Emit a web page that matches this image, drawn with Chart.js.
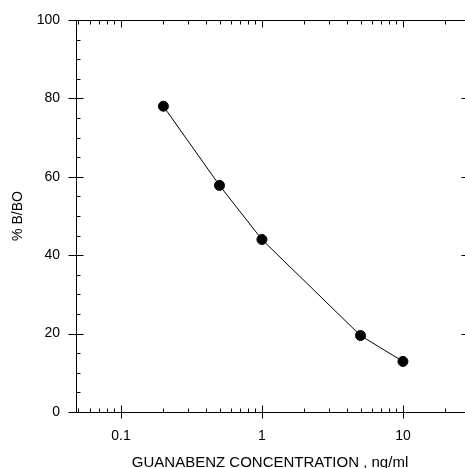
<!DOCTYPE html>
<html>
<head>
<meta charset="utf-8">
<script src="https://cdn.jsdelivr.net/npm/chart.js@4/dist/chart.umd.min.js"></script>
<style>
  html, body { margin: 0; padding: 0; background: #fff; }
  #wrap { width: 465px; height: 468px; position: relative; }
</style>
</head>
<body>
<div id="wrap"><canvas id="c"></canvas></div>
<script>
// ---- data ----
const concentrations = [0.2, 0.5, 1, 5, 10];
const percentBB0 = [78, 57.8, 44, 19.5, 12.9];
const xTickValues = [0.1, 1, 10];
const yTickValues = [0, 20, 40, 60, 80, 100];
const xTitle = 'GUANABENZ CONCENTRATION , ng/ml';
const yTitle = '% B/BO';

const FONT = "'Liberation Sans', Arial, sans-serif";

const axesPlugin = {
  id: 'axesPlugin',
  afterDatasetsDraw(chart) {
    const ctx = chart.ctx;
    const xs = chart.scales.x, ys = chart.scales.y;
    const a = chart.chartArea;
    const L = Math.round(a.left) + 0.5, R = Math.round(a.right) + 0.5;
    const T = Math.round(a.top) + 0.5, B = Math.round(a.bottom) + 0.5;
    ctx.save();
    ctx.strokeStyle = '#000';
    ctx.lineWidth = 1;
    ctx.beginPath();
    // frame: bottom, top, left
    ctx.moveTo(L, B); ctx.lineTo(R + 1, B);
    ctx.moveTo(L, T); ctx.lineTo(R + 1, T);
    ctx.moveTo(L, T); ctx.lineTo(L, B);
    // y major ticks
    yTickValues.forEach(v => {
      const y = Math.round(ys.getPixelForValue(v)) + 0.5;
      ctx.moveTo(L - 8, y); ctx.lineTo(L + 7, y);
      ctx.moveTo(R - 3, y); ctx.lineTo(R + 1, y);
    });
    // y minor ticks
    for (let v = 5; v < 100; v += 5) {
      if (v % 20 === 0) continue;
      const y = Math.round(ys.getPixelForValue(v)) + 0.5;
      ctx.moveTo(L, y); ctx.lineTo(L + 4, y);
    }
    // x ticks
    const xmin = xs.min, xmax = xs.max;
    for (let e = -2; e <= 1; e++) {
      for (let m = 1; m <= 9; m++) {
        const v = m * Math.pow(10, e);
        if (v < xmin || v > xmax) continue;
        const x = Math.round(xs.getPixelForValue(v)) + 0.5;
        if (m === 1) {
          ctx.moveTo(x, B - 7); ctx.lineTo(x, B + 6);
          ctx.moveTo(x, T); ctx.lineTo(x, T + 7);
        } else {
          ctx.moveTo(x, B); ctx.lineTo(x, B - 4);
          ctx.moveTo(x, T); ctx.lineTo(x, T + 4);
        }
      }
    }
    ctx.stroke();
    ctx.restore();
  }
};

new Chart(document.getElementById('c'), {
  type: 'scatter',
  data: {
    datasets: [{
      data: concentrations.map((c, i) => ({ x: c, y: percentBB0[i] })),
      showLine: true,
      borderColor: '#000',
      borderWidth: 1,
      backgroundColor: '#000',
      pointBackgroundColor: '#000',
      pointBorderColor: '#000',
      pointRadius: 5,
      tension: 0,
      clip: false
    }]
  },
  options: {
    responsive: true,
    maintainAspectRatio: false,
    animation: false,
    devicePixelRatio: 1,
    layout: { autoPadding: false, padding: { left: 0, top: 20, right: 1, bottom: 0 } },
    plugins: { legend: { display: false }, tooltip: { enabled: false } },
    scales: {
      x: {
        type: 'logarithmic',
        min: 0.048,
        max: 27.1,
        grid: { display: false, drawTicks: false },
        border: { display: false },
        afterBuildTicks: s => { s.ticks = xTickValues.map(v => ({ value: v })); },
        afterFit: s => { s.height = 56; s.paddingLeft = 0; s.paddingRight = 0; },
        ticks: {
          color: '#000',
          font: { family: FONT, size: 14 },
          padding: 16,
          maxRotation: 0,
          autoSkip: false,
          callback: v => String(v)
        },
        title: {
          display: true,
          text: xTitle,
          color: '#000',
          font: { family: FONT, size: 15 },
          padding: { top: 0, bottom: -4 }
        }
      },
      y: {
        min: 0,
        max: 100,
        grid: { display: false, drawTicks: false },
        border: { display: false },
        afterBuildTicks: s => { s.ticks = yTickValues.map(v => ({ value: v })); },
        afterFit: s => { s.width = 76; s.paddingTop = 0; s.paddingBottom = 0; },
        ticks: {
          color: '#000',
          font: { family: FONT, size: 14 },
          padding: 16
        },
        title: {
          display: true,
          text: yTitle,
          color: '#000',
          font: { family: FONT, size: 14 },
          padding: { top: 10, bottom: 0 }
        }
      }
    }
  },
  plugins: [axesPlugin]
});
</script>
</body>
</html>
